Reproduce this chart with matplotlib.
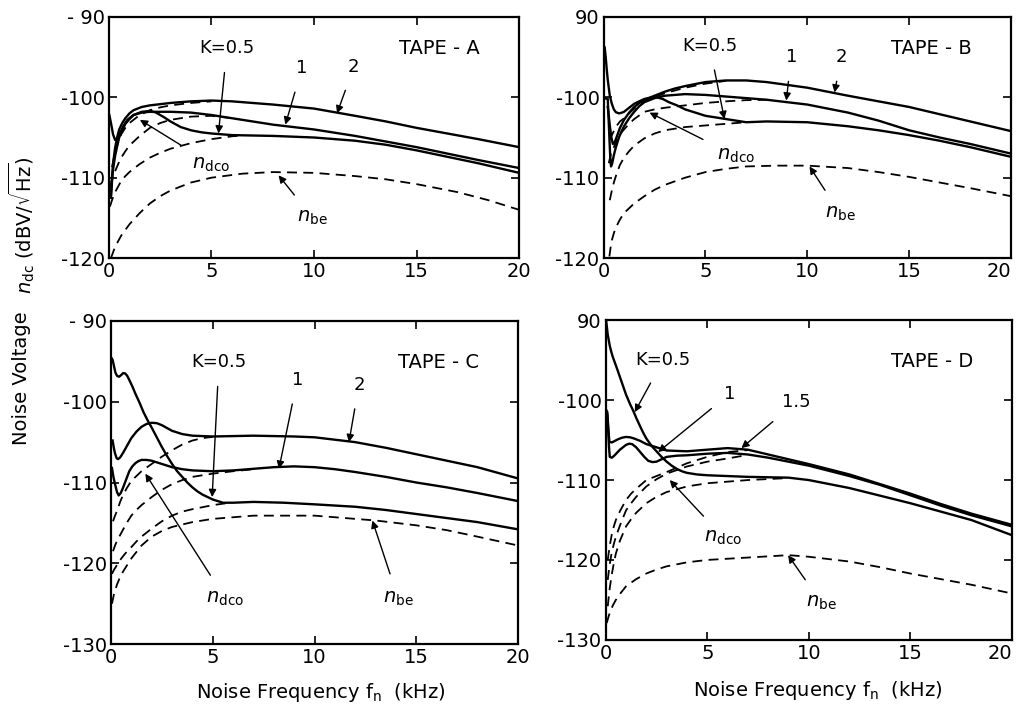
import numpy as np
import matplotlib.pyplot as plt

plt.rcParams.update({'font.size': 13, 'font.family': 'DejaVu Sans'})

# ---------------- TAPE-A ----------------
A_K05_X = [0.02, 0.1, 0.2, 0.3, 0.4, 0.55, 0.7, 0.9, 1.2, 1.6, 2.0, 2.3, 2.7, 3, 3.5, 4, 4.5, 5, 6, 8,
           10, 12, 13.5, 15, 16.5, 18, 20]
A_K05_Y = [-102.2, -103.2, -104.6, -105.3, -105.1, -104.4, -103.6, -102.8, -102.2, -101.8, -101.7, -101.9,
           -102.5, -103, -103.7, -104.1, -104.35, -104.5, -104.7, -104.8, -105.0, -105.4, -105.9, -106.6,
           -107.4, -108.2, -109.4]
A_K1_X = [0.1, 0.15, 0.2, 0.3, 0.4, 0.5, 0.65, 0.8, 1.0, 1.2, 1.6, 2, 3, 4, 5, 6, 7, 8, 10, 12, 13.5, 15,
          16.5, 18, 20]
A_K1_Y = [-112.5, -110.5, -109, -107.3, -106.1, -105.0, -104.1, -103.3, -102.7, -102.2, -101.9, -101.8,
          -101.8, -101.9, -102.2, -102.6, -103.0, -103.4, -104, -104.8, -105.5, -106.2, -107.0, -107.8, -108.8]
A_K2_X = [0.1, 0.15, 0.2, 0.3, 0.4, 0.5, 0.65, 0.8, 1.0, 1.2, 1.6, 2, 3, 4, 5, 6, 7, 8, 10, 12, 13.5, 15,
          16.5, 18, 20]
A_K2_Y = [-112, -110, -108.3, -106.3, -105.0, -104.0, -103.2, -102.6, -102.0, -101.6, -101.2, -101.0,
          -100.7, -100.5, -100.4, -100.5, -100.7, -100.9, -101.4, -102.3, -103.0, -103.8, -104.5, -105.2, -106.2]
A_DCO05_X = [0.05, 0.15, 0.3, 0.45, 0.6, 0.8, 1, 1.25, 1.5, 2, 2.5, 3, 4, 5, 6, 6.5]
A_DCO05_Y = [-113.6, -112.8, -111.8, -111.1, -110.4, -109.8, -109.3, -108.8, -108.3, -107.5, -106.9, -106.4,
             -105.7, -105.2, -104.85, -104.75]
A_DCO1_X = [0.05, 0.15, 0.3, 0.45, 0.6, 0.8, 1, 1.25, 1.5, 2, 2.5, 3, 4, 5, 6]
A_DCO1_Y = [-111.1, -110.2, -109.2, -108.3, -107.5, -106.7, -106, -105.4, -104.8, -103.8, -103.2, -102.8,
            -102.4, -102.3, -102.6]
A_DCO2_X = [0.15, 0.3, 0.45, 0.6, 0.8, 1, 1.25, 1.5, 2, 2.5, 3, 4, 5]
A_DCO2_Y = [-108.7, -106.8, -105.6, -104.6, -103.8, -103.2, -102.7, -102.2, -101.6, -101.25, -101.0,
            -100.7, -100.5]
A_BE_X = [0.1, 0.2, 0.3, 0.45, 0.6, 0.8, 1, 1.25, 1.5, 2, 2.5, 3, 4, 5, 6.5, 8, 10, 12, 13.5, 15, 17,
          18.5, 20]
A_BE_Y = [-120, -119.3, -118.6, -117.9, -117.2, -116.5, -115.8, -115.1, -114.4, -113.2, -112.3, -111.6,
          -110.6, -110, -109.5, -109.3, -109.4, -109.8, -110.2, -110.8, -111.8, -112.8, -114]

# ---------------- TAPE-B ----------------
B_K05_X = [0.05, 0.1, 0.15, 0.2, 0.3, 0.4, 0.5, 0.6, 0.75, 0.9, 1.0, 1.25, 1.5, 1.75, 2, 2.3, 2.6, 2.9,
           3.2, 3.6, 4, 4.5, 5, 6, 7, 8, 10, 12, 13.5, 15, 16.5, 18, 20]
B_K05_Y = [-93.8, -95.0, -96.5, -97.8, -99.8, -100.8, -101.5, -101.85, -102.0, -101.9, -101.8, -101.3,
           -100.8, -100.5, -100.2, -100.05, -100.0, -100.2, -100.6, -101.0, -101.5, -101.9, -102.3, -102.7,
           -103.1, -103.0, -103.1, -103.6, -104.1, -104.7, -105.4, -106.2, -107.4]
B_K1_X = [0.02, 0.2, 0.24, 0.28, 0.32, 0.36, 0.42, 0.5, 0.6, 0.75, 0.9, 1, 1.25, 1.5, 1.75, 2, 2.5, 3, 4,
          5, 6, 8, 10, 12, 13.5, 15, 16.5, 18, 20]
B_K1_Y = [-100.1, -100.2, -102.5, -105, -107.3, -108.6, -108.2, -107.2, -106.2, -105.0, -104.1, -103.6,
          -102.6, -101.8, -101.1, -100.6, -100.1, -99.8, -99.6, -99.7, -99.9, -100.3, -100.9, -101.9, -102.9,
          -104.1, -105.0, -105.8, -107.0]
B_K2_X = [0.2, 0.25, 0.3, 0.38, 0.45, 0.52, 0.6, 0.7, 0.8, 0.9, 1, 1.25, 1.5, 1.75, 2, 2.5, 3, 3.5, 4, 5,
          6, 7, 8, 10, 12, 13.5, 15, 16.5, 18, 20]
B_K2_Y = [-101.2, -102.3, -103.5, -105.0, -105.8, -105.7, -105.2, -104.5, -103.8, -103.3, -102.8, -101.9,
          -101.2, -100.7, -100.3, -99.8, -99.3, -98.9, -98.6, -98.1, -97.9, -97.9, -98.1, -98.8, -99.8,
          -100.5, -101.2, -102.1, -103, -104.2]
B_DCO05_X = [0.3, 0.4, 0.5, 0.65, 0.8, 1, 1.25, 1.5, 2, 2.5, 3, 4, 5, 6, 7]
B_DCO05_Y = [-112.8, -111.6, -110.6, -109.4, -108.4, -107.5, -106.7, -106, -105.1, -104.5, -104.1, -103.7,
             -103.5, -103.3, -103.1]
B_DCO1_X = [0.25, 0.35, 0.5, 0.65, 0.8, 1, 1.25, 1.5, 2, 2.5, 3, 4, 5, 6, 7, 8]
B_DCO1_Y = [-108.2, -107.1, -106.2, -105.3, -104.6, -104, -103.3, -102.7, -101.8, -101.5, -101.3, -101.0,
            -100.7, -100.5, -100.35, -100.3]
B_DCO2_X = [0.3, 0.4, 0.5, 0.65, 0.8, 1, 1.25, 1.5, 2, 2.5, 3, 4, 5, 6]
B_DCO2_Y = [-105.3, -104.7, -104.2, -103.5, -103.0, -102.6, -102.0, -101.4, -100.5, -99.95, -99.5, -98.8,
            -98.3, -97.95]
B_BE_X = [0.28, 0.34, 0.4, 0.5, 0.6, 0.8, 1, 1.25, 1.5, 2, 2.5, 3, 4, 5, 6, 7, 8.5, 10, 12, 13.5, 15,
          16.5, 18, 20]
B_BE_Y = [-119.8, -118.7, -117.8, -116.9, -116.2, -115.2, -114.4, -113.8, -113.2, -112.3, -111.5, -110.9,
          -110, -109.3, -108.9, -108.6, -108.5, -108.5, -108.8, -109.3, -109.9, -110.6, -111.3, -112.3]

# ---------------- TAPE-C ----------------
C_K05_X = [0.03, 0.08, 0.15, 0.22, 0.3, 0.4, 0.5, 0.6, 0.7, 0.8, 0.9, 1.05, 1.2, 1.4, 1.6, 1.8, 2, 2.25,
           2.5, 2.75, 3, 3.25, 3.5, 3.75, 4, 4.25, 4.5, 4.75, 5, 5.5, 6, 7, 8.5, 10, 12, 13.5, 15, 16.5,
           18, 20]
C_K05_Y = [-94.6, -94.8, -95.6, -96.4, -96.8, -96.9, -96.7, -96.45, -96.5, -96.8, -97.3, -98.1, -99.0,
           -100.1, -101.3, -102.3, -103.2, -104.4, -105.6, -106.7, -107.7, -108.6, -109.3, -110.0, -110.6,
           -111.1, -111.5, -111.8, -112.1, -112.5, -112.5, -112.4, -112.5, -112.7, -113.0, -113.4, -113.9,
           -114.4, -114.9, -115.8]
C_K1_X = [0.05, 0.12, 0.2, 0.3, 0.38, 0.48, 0.6, 0.75, 0.9, 1.05, 1.2, 1.35, 1.5, 1.75, 2, 2.5, 3, 3.5, 4,
          5, 6, 7, 8, 9, 10, 11, 12, 13.5, 15, 16.5, 18, 20]
C_K1_Y = [-108.2, -109.3, -110.2, -111.2, -111.6, -111.3, -110.6, -109.6, -108.6, -108.0, -107.6, -107.35,
          -107.2, -107.2, -107.3, -107.7, -108.1, -108.35, -108.5, -108.6, -108.5, -108.3, -108.1, -108.0,
          -108.1, -108.35, -108.7, -109.3, -110.0, -110.6, -111.3, -112.3]
C_K2_X = [0.08, 0.14, 0.2, 0.28, 0.35, 0.45, 0.6, 0.8, 1, 1.25, 1.5, 1.75, 2, 2.25, 2.5, 3, 3.5, 4, 5, 7,
          9, 10, 11, 12, 13.5, 15, 16.5, 18, 20]
C_K2_Y = [-104.8, -105.7, -106.4, -107.0, -107.1, -106.9, -106.3, -105.4, -104.5, -103.7, -103.1, -102.75,
          -102.6, -102.65, -102.9, -103.6, -104.0, -104.2, -104.3, -104.2, -104.3, -104.4, -104.7, -105.0,
          -105.7, -106.5, -107.3, -108.1, -109.5]
C_DCO05_X = [0.05, 0.15, 0.3, 0.45, 0.6, 0.8, 1, 1.25, 1.5, 2, 2.5, 3, 3.5, 4, 5, 5.7]
C_DCO05_Y = [-121.3, -120.8, -120.2, -119.6, -119.1, -118.5, -118, -117.3, -116.7, -115.7, -114.8, -114.1,
             -113.6, -113.3, -112.8, -112.55]
C_DCO1_X = [0.1, 0.2, 0.3, 0.45, 0.6, 0.8, 1, 1.25, 1.5, 2, 2.5, 3, 3.5, 4, 5, 6, 7]
C_DCO1_Y = [-118.5, -117.8, -117.2, -116.5, -115.8, -114.9, -114.1, -113.4, -112.8, -111.8, -110.9, -110.2,
            -109.7, -109.3, -108.9, -108.6, -108.35]
C_DCO2_X = [0.1, 0.2, 0.3, 0.45, 0.6, 0.8, 1, 1.25, 1.5, 2, 2.5, 3, 3.5, 4, 4.5, 5]
C_DCO2_Y = [-114.8, -114.1, -113.5, -112.4, -111.5, -110.6, -109.8, -109.2, -108.6, -107.7, -106.8, -106,
            -105.3, -104.8, -104.5, -104.35]
C_BE_X = [0.05, 0.15, 0.3, 0.45, 0.6, 0.8, 1, 1.25, 1.5, 2, 2.5, 3, 4, 5, 7, 10, 13, 15, 16.5, 18, 20]
C_BE_Y = [-125, -123.8, -122.6, -121.7, -121.0, -120.2, -119.4, -118.6, -117.8, -116.7, -116.0, -115.5,
          -114.9, -114.5, -114.1, -114.1, -114.7, -115.3, -115.9, -116.7, -117.8]

# ---------------- TAPE-D ----------------
D_K05_X = [0.02, 0.06, 0.1, 0.15, 0.2, 0.28, 0.35, 0.45, 0.55, 0.7, 0.85, 1.0, 1.2, 1.35, 1.5, 1.7, 1.85,
           2, 2.25, 2.5, 2.75, 3, 3.25, 3.5, 3.75, 4, 4.5, 5, 7, 9, 10, 12, 15, 18, 20]
D_K05_Y = [-90, -90.9, -91.8, -92.5, -93.2, -94.0, -94.6, -95.3, -96.0, -97.1, -98.2, -99.3, -100.5,
           -101.3, -102.2, -103.3, -104.1, -104.8, -105.7, -106.4, -107.1, -107.7, -108.2, -108.6, -108.9,
           -109.1, -109.3, -109.4, -109.6, -109.7, -110.0, -111.0, -112.9, -115.0, -116.9]
D_K1_X = [0.02, 0.08, 0.12, 0.16, 0.2, 0.3, 0.4, 0.55, 0.7, 0.85, 1.0, 1.15, 1.3, 1.5, 1.7, 1.9, 2.1, 2.3,
          2.5, 2.75, 3, 3.5, 4, 5, 6, 7, 8, 9, 10, 12, 13.5, 15, 16.5, 18, 20]
D_K1_Y = [-101.5, -101.8, -103.5, -105.8, -107.1, -107.2, -107.0, -106.6, -106.2, -105.9, -105.6, -105.45,
          -105.5, -105.9, -106.5, -107.1, -107.6, -107.75, -107.7, -107.4, -107.1, -106.95, -106.9, -106.7,
          -106.6, -106.8, -107.2, -107.7, -108.2, -109.5, -110.6, -111.9, -113.2, -114.4, -115.8]
D_K15_X = [0.02, 0.08, 0.12, 0.18, 0.3, 0.45, 0.6, 0.8, 1.0, 1.2, 1.4, 1.7, 2, 2.5, 3, 4, 5, 6, 7, 8, 9,
           10, 12, 13.5, 15, 16.5, 18, 20]
D_K15_Y = [-101.2, -101.5, -103.3, -105.2, -105.3, -105.1, -104.9, -104.7, -104.6, -104.65, -104.8, -105.1,
           -105.5, -105.9, -106.3, -106.4, -106.2, -106.0, -106.2, -106.8, -107.4, -108.0, -109.3, -110.5,
           -111.7, -113.0, -114.2, -115.6]
D_DCO05_X = [0.1, 0.2, 0.3, 0.4, 0.5, 0.7, 1, 1.25, 1.5, 2, 2.5, 3, 4, 5, 7, 9]
D_DCO05_Y = [-125.8, -123.5, -121.8, -120.4, -119.2, -117.6, -115.8, -114.9, -114.1, -112.9, -112.1, -111.5,
             -110.8, -110.4, -110.0, -109.75]
D_DCO1_X = [0.1, 0.2, 0.3, 0.4, 0.5, 0.7, 1, 1.25, 1.5, 2, 2.5, 3, 4, 5, 6, 7]
D_DCO1_Y = [-122.5, -120.5, -119.0, -118.0, -117.1, -115.7, -113.8, -112.9, -112.1, -110.8, -109.9, -109.2,
            -108.3, -107.7, -107.3, -106.85]
D_DCO15_X = [0.1, 0.2, 0.3, 0.4, 0.5, 0.7, 1, 1.25, 1.5, 2, 2.5, 3, 4, 5, 6, 7]
D_DCO15_Y = [-120, -118.2, -116.8, -115.8, -115, -113.9, -112.5, -111.7, -111.1, -110, -109.5, -109, -107.9,
             -107.1, -106.5, -106.25]
D_BE_X = [0.05, 0.15, 0.25, 0.35, 0.5, 0.75, 1, 1.5, 2, 2.5, 3, 4, 5, 7, 9, 10, 12, 13.5, 15, 16.5, 18, 20]
D_BE_Y = [-127.9, -127.0, -126.3, -125.7, -125.0, -124.1, -123.3, -122.4, -121.7, -121.2, -120.8, -120.3,
          -120.0, -119.7, -119.4, -119.6, -120.2, -120.9, -121.7, -122.4, -123.1, -124.2]

# tick labels
X_TICKS = [0, 5, 10, 15, 20]
A_YTICKS = [-90, -100, -110, -120]
A_YLABELS = ['- 90', '-100', '-110', '-120']
B_YLABELS = ['90', '-100', '-110', '-120']
C_YTICKS = [-90, -100, -110, -120, -130]
C_YLABELS = ['- 90', '-100', '-110', '-120', '-130']
D_YLABELS = ['90', '-100', '-110', '-120', '-130']

NDCO = r'$n_{\rm dco}$'
NBE = r'$n_{\rm be}$'

fig = plt.figure(figsize=(10.18, 7.07), dpi=100)
axA = fig.add_axes([0.107, 0.635, 0.403, 0.341])
axB = fig.add_axes([0.593, 0.635, 0.400, 0.341])
axC = fig.add_axes([0.109, 0.089, 0.400, 0.457])
axD = fig.add_axes([0.595, 0.095, 0.399, 0.452])


def draw(ax, solids, dashes, yticks, ylabels, tape, right_edge=False):
    for x, y in dashes:
        ax.plot(x, y, color='k', lw=1.3, ls=(0, (5.5, 3.5)))
    for x, y in solids:
        ax.plot(x, y, color='k', lw=1.7)
    ax.set_xlim(0, 20)
    ax.set_ylim(yticks[-1], yticks[0])
    ax.set_xticks(X_TICKS)
    ax.set_yticks(yticks)
    ax.set_yticklabels(ylabels)
    ax.tick_params(direction='in', length=6, width=1.2, top=True, right=True,
                   labelsize=14, pad=3)
    if right_edge:
        ax.get_xticklabels()[-1].set_horizontalalignment('right')
    for s in ax.spines.values():
        s.set_linewidth(1.6)
    ax.text(0.905, 0.87, tape, transform=ax.transAxes, ha='right', va='center', fontsize=14)


def note(ax, text, xy, xytext, size=14):
    ax.annotate(text, xy=xy, xytext=xytext, ha='center', va='center', fontsize=size,
                arrowprops=dict(arrowstyle='-|>', color='k', lw=1.0, mutation_scale=11,
                                shrinkA=9, shrinkB=0))


draw(axA, [(A_K05_X, A_K05_Y), (A_K1_X, A_K1_Y), (A_K2_X, A_K2_Y)],
     [(A_DCO05_X, A_DCO05_Y), (A_DCO1_X, A_DCO1_Y), (A_DCO2_X, A_DCO2_Y), (A_BE_X, A_BE_Y)],
     A_YTICKS, A_YLABELS, 'TAPE - A')
note(axA, 'K=0.5', (5.34, -104.5), (5.75, -93.9), 13)
note(axA, '1', (8.6, -103.4), (9.41, -96.4), 13)
note(axA, '2', (11.12, -102.0), (11.94, -96.2), 13)
note(axA, NDCO, (1.51, -102.8), (5.0, -108.3))
note(axA, NBE, (8.27, -109.7), (9.9, -114.9))

draw(axB, [(B_K05_X, B_K05_Y), (B_K1_X, B_K1_Y), (B_K2_X, B_K2_Y)],
     [(B_DCO05_X, B_DCO05_Y), (B_DCO1_X, B_DCO1_Y), (B_DCO2_X, B_DCO2_Y), (B_BE_X, B_BE_Y)],
     A_YTICKS, B_YLABELS, 'TAPE - B', right_edge=True)
note(axB, 'K=0.5', (5.93, -102.7), (5.2, -93.6), 13)
note(axB, '1', (8.97, -100.4), (9.21, -95.0), 13)
note(axB, '2', (11.34, -99.4), (11.67, -95.0), 13)
note(axB, NDCO, (2.25, -101.9), (6.5, -107.3))
note(axB, NBE, (10.11, -108.6), (11.6, -114.4))

draw(axC, [(C_K05_X, C_K05_Y), (C_K1_X, C_K1_Y), (C_K2_X, C_K2_Y)],
     [(C_DCO05_X, C_DCO05_Y), (C_DCO1_X, C_DCO1_Y), (C_DCO2_X, C_DCO2_Y), (C_BE_X, C_BE_Y)],
     C_YTICKS, C_YLABELS, 'TAPE - C')
note(axC, 'K=0.5', (4.97, -111.8), (5.3, -95.1), 13)
note(axC, '1', (8.25, -108.3), (9.15, -97.3), 13)
note(axC, '2', (11.69, -105.0), (12.18, -97.9), 13)
note(axC, NDCO, (1.69, -108.9), (5.6, -124.3))
note(axC, NBE, (12.84, -114.7), (14.1, -124.3))

draw(axD, [(D_K05_X, D_K05_Y), (D_K1_X, D_K1_Y), (D_K15_X, D_K15_Y)],
     [(D_DCO05_X, D_DCO05_Y), (D_DCO1_X, D_DCO1_Y), (D_DCO15_X, D_DCO15_Y), (D_BE_X, D_BE_Y)],
     C_YTICKS, D_YLABELS, 'TAPE - D', right_edge=True)
note(axD, 'K=0.5', (1.43, -101.5), (2.82, -95.0), 13)
note(axD, '1', (2.58, -106.5), (6.1, -99.2), 13)
note(axD, '1.5', (6.68, -106.0), (9.39, -100.2), 13)
note(axD, NDCO, (3.15, -110.0), (5.8, -117.2))
note(axD, NBE, (8.98, -119.4), (10.6, -125.3))

fig.text(0.0216, 0.682, r'$n_{\rm dc}$ (dBV/$\sqrt{\rm Hz}$)', rotation=90,
         ha='center', va='center', fontsize=14)
fig.text(0.0216, 0.465, 'Noise Voltage', rotation=90, ha='center', va='center', fontsize=14)
fig.text(0.315, 0.021, r'Noise Frequency f$_{\rm n}$  (kHz)', ha='center', va='center', fontsize=14)
fig.text(0.803, 0.024, r'Noise Frequency f$_{\rm n}$  (kHz)', ha='center', va='center', fontsize=14)

plt.savefig('out.png', dpi=100)
